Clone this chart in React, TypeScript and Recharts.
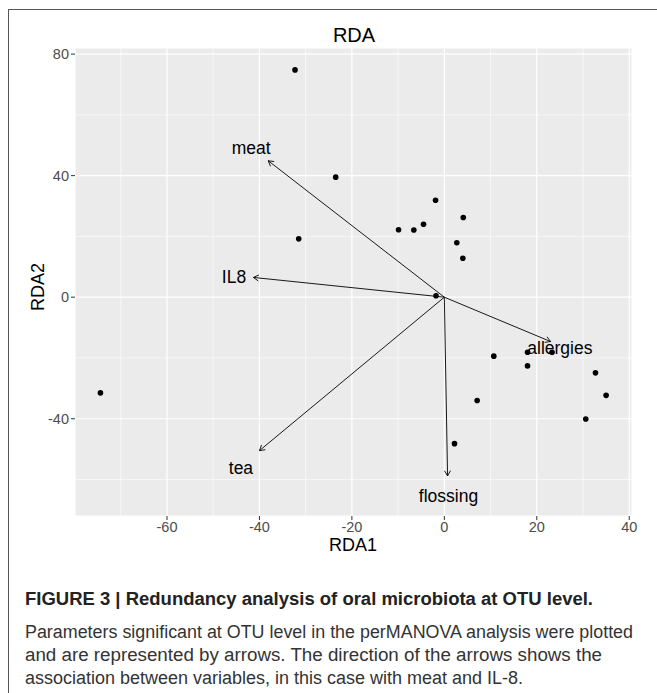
import { ScatterChart, Scatter, XAxis, YAxis, CartesianGrid, ReferenceLine } from "recharts";

// sample scores (black dots)
const siteRDA1 = [-32.3, -23.5, -31.5, -74.4, -1.9, 4.1, -9.9, -6.6, -4.5, 2.7, 4.0, -1.8, 10.7, 18.0, 23.3, 18.0, 32.7, 35.0, 7.1, 30.6, 2.2];
const siteRDA2 = [74.8, 39.5, 19.2, -31.5, 31.9, 26.2, 22.2, 22.1, 24.0, 17.9, 12.8, 0.5, -19.4, -18.1, -18.1, -22.6, -24.9, -32.3, -34.0, -40.1, -48.2];

// explanatory variables (arrows from origin)
const envNames = ["meat", "IL8", "tea", "flossing", "allergies"];
const envRDA1 = [-38.1, -41.3, -40.0, 0.7, 23.0];
const envRDA2 = [44.9, 6.5, -50.5, -58.8, -14.6];
const labelRDA1 = [-41.8, -45.5, -44.0, 0.9, 25.0];
const labelRDA2 = [49.1, 6.6, -56.1, -65.4, -16.5];

const xTicks = [-60, -40, -20, 0, 20, 40];
const yTicks = [-40, 0, 40, 80];
const xMinor = [-70, -50, -30, -10, 10, 30];
const yMinor = [-60, -20, 20, 60];

const captionTitle = "FIGURE 3 | Redundancy analysis of oral microbiota at OTU level.";
const captionLines = [
  "Parameters significant at OTU level in the perMANOVA analysis were plotted",
  "and are represented by arrows. The direction of the arrows shows the",
  "association between variables, in this case with meat and IL-8.",
];

const sites = siteRDA1.map((x, i) => ({ x, y: siteRDA2[i] }));
const labels = envNames.map((name, i) => ({ x: labelRDA1[i], y: labelRDA2[i], name }));

const FONT = "'Liberation Sans', Arial, sans-serif";

function Arrow(props: any) {
  const { x1, y1, x2, y2 } = props;
  const a = Math.atan2(y2 - y1, x2 - x1);
  const len = 6;
  const spread = Math.PI / 6;
  const ax = x2 - len * Math.cos(a - spread);
  const ay = y2 - len * Math.sin(a - spread);
  const bx = x2 - len * Math.cos(a + spread);
  const by = y2 - len * Math.sin(a + spread);
  return (
    <g>
      <line x1={x1} y1={y1} x2={x2} y2={y2} stroke="#000" strokeWidth={0.9} />
      <polyline points={`${ax},${ay} ${x2},${y2} ${bx},${by}`} fill="none" stroke="#000" strokeWidth={0.9} />
    </g>
  );
}

export default function App() {
  return (
    <div style={{ position: "absolute", left: 0, top: 0, width: 657, height: 693, background: "#fff", fontFamily: FONT, overflow: "hidden" }}>
      {/* frame */}
      <div style={{ position: "absolute", left: 8, top: 9, width: 700, height: 700, borderTop: "1.5px solid #555", borderLeft: "1.5px solid #555" }} />

      <div style={{ position: "absolute", left: 0, top: 0 }}>
        <ScatterChart width={657} height={560} margin={{ top: 48, right: 25, left: 35, bottom: 14 }}>
          <CartesianGrid fill="#EBEBEB" fillOpacity={1} stroke="#fff" strokeWidth={1.2} />
          {xMinor.map((v) => (
            <ReferenceLine key={"xm" + v} x={v} stroke="#fff" strokeWidth={0.6} />
          ))}
          {yMinor.map((v) => (
            <ReferenceLine key={"ym" + v} y={v} stroke="#fff" strokeWidth={0.6} />
          ))}
          <XAxis
            type="number" dataKey="x" domain={[-79.9, 40.6]} ticks={xTicks} allowDataOverflow
            height={30} tickSize={4} tickMargin={2} axisLine={false} fontSize={14.5}
            tickLine={{ stroke: "#333" }} tick={{ fill: "#4d4d4d", fontSize: 14.5, fontFamily: FONT }}
          />
          <YAxis
            type="number" dataKey="y" domain={[-72, 82]} ticks={yTicks} allowDataOverflow
            width={40} tickSize={4} tickMargin={2} axisLine={false} fontSize={14.5}
            tickLine={{ stroke: "#333" }} tick={{ fill: "#4d4d4d", fontSize: 14.5, fontFamily: FONT }}
          />
          {envNames.map((n, i) => (
            <ReferenceLine
              key={n}
              segment={[{ x: 0, y: 0 }, { x: envRDA1[i], y: envRDA2[i] }]}
              ifOverflow="visible"
              shape={Arrow}
            />
          ))}
          <Scatter
            data={sites} isAnimationActive={false}
            shape={(p: any) => <circle cx={p.cx} cy={p.cy} r={2.8} fill="#000" />}
          />
          <Scatter
            data={labels} isAnimationActive={false}
            shape={(p: any) => (
              <text x={p.cx} y={p.cy} dy="0.36em" textAnchor="middle" fontSize={17.5} fill="#000" fontFamily={FONT}>
                {p.payload.name}
              </text>
            )}
          />
        </ScatterChart>
      </div>

      {/* title, axis titles, caption */}
      <svg width={657} height={693} style={{ position: "absolute", left: 0, top: 0, pointerEvents: "none" }}>
        <text x={354} y={42} textAnchor="middle" fontSize={20} fill="#000">RDA</text>
        <text x={353} y={551} textAnchor="middle" fontSize={18} fill="#000">RDA1</text>
        <text x={44} y={287} textAnchor="middle" fontSize={18} fill="#000" transform="rotate(-90 44 287)">RDA2</text>
        <text x={25} y={605} fontSize={18} fontWeight="bold" fill="#222" textLength={568} lengthAdjust="spacingAndGlyphs">
          {captionTitle}
        </text>
        {captionLines.map((l, i) => (
          <text key={i} x={25} y={638 + i * 23} fontSize={18} fill="#333"
            textLength={[608, 577, 498][i]} lengthAdjust="spacingAndGlyphs">
            {l}
          </text>
        ))}
      </svg>
    </div>
  );
}
